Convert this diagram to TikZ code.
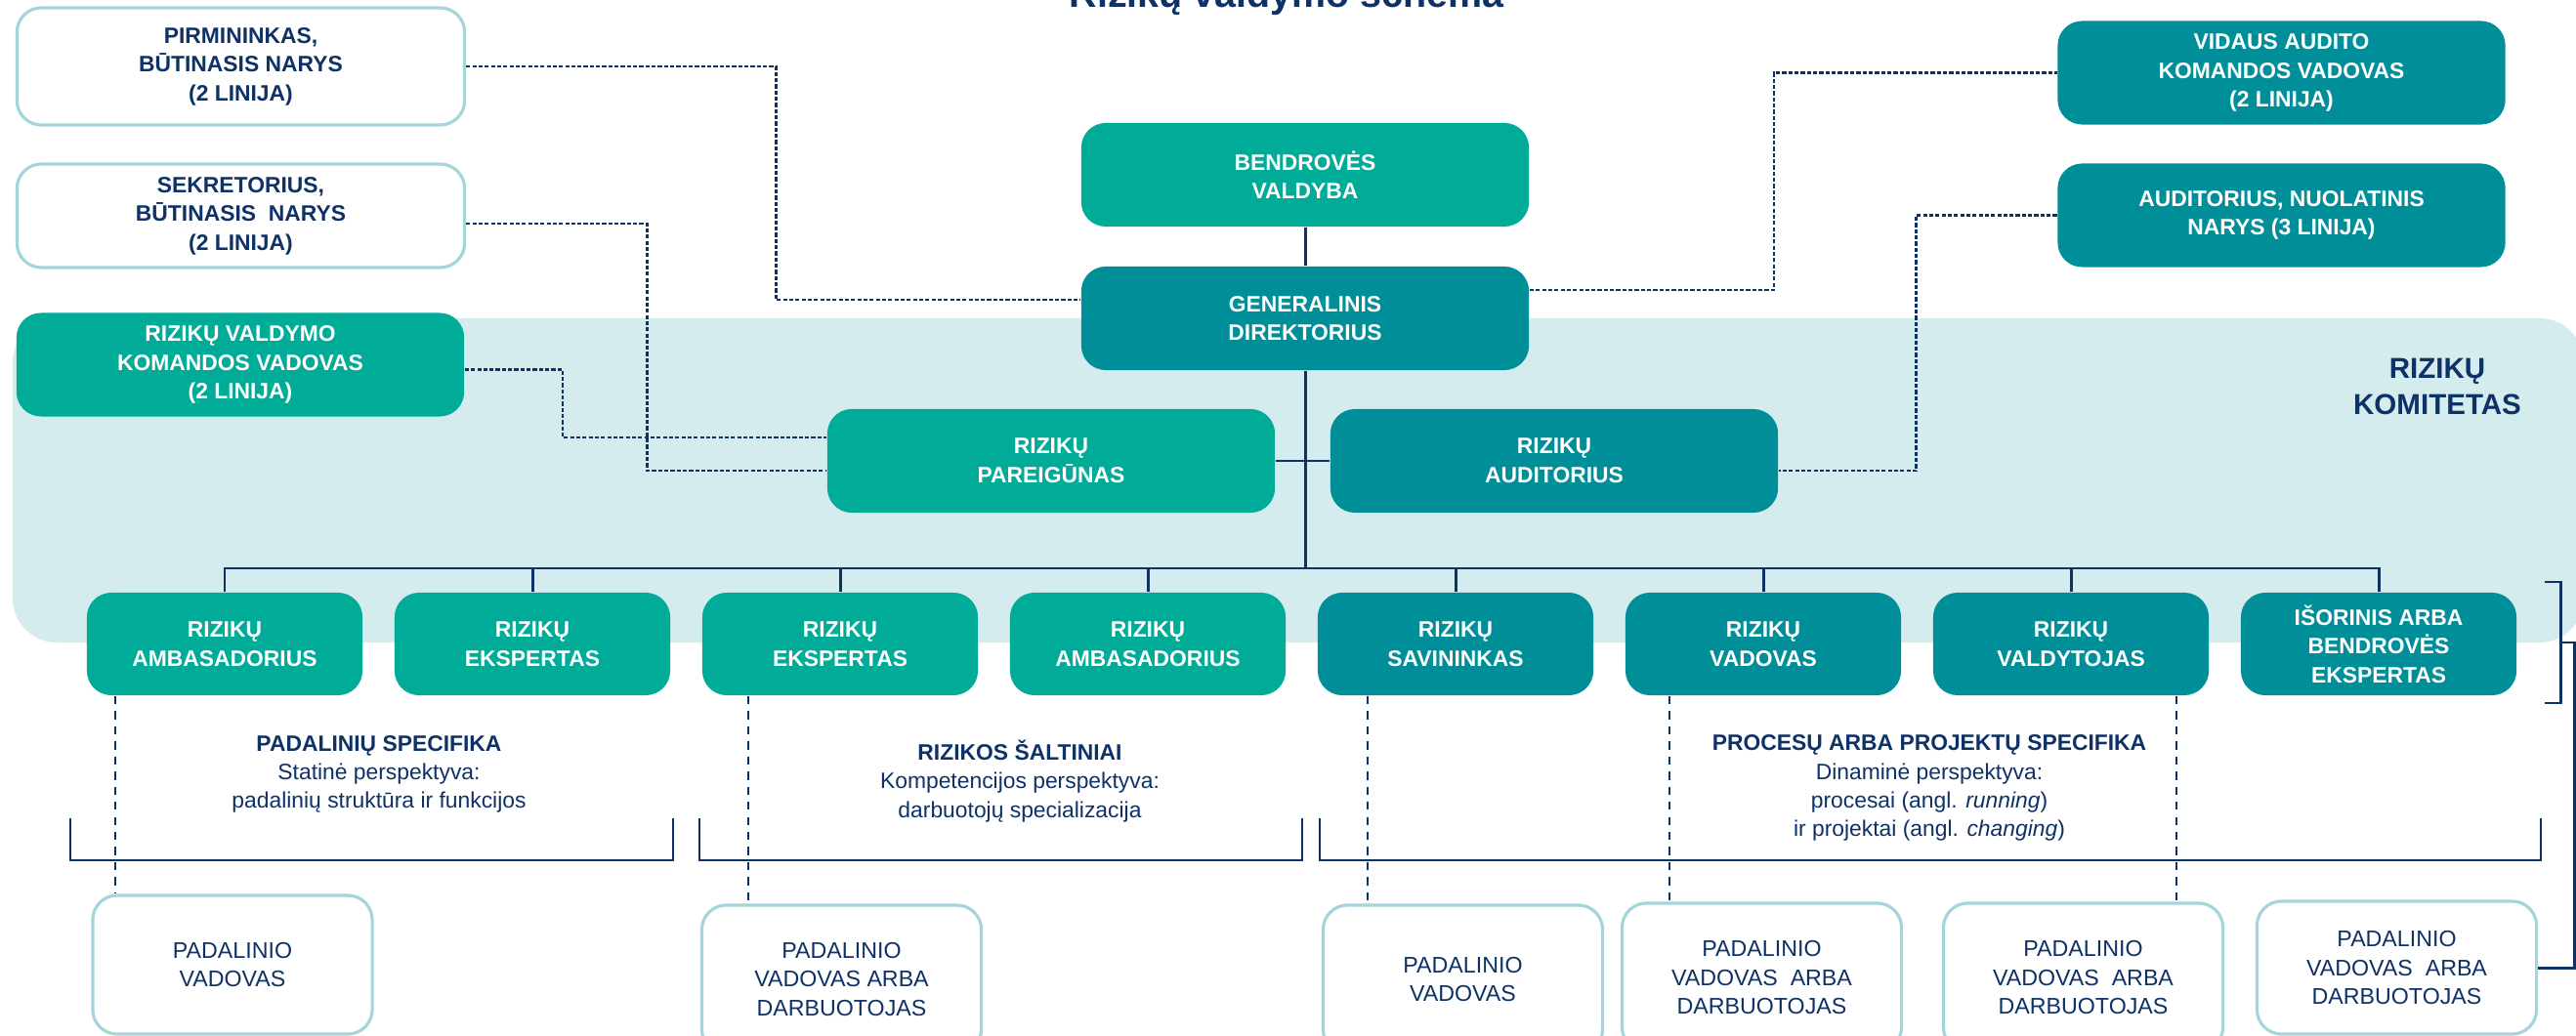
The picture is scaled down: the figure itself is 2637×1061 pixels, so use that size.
\documentclass[tikz,border=0pt]{standalone}
\usepackage{fontspec}
\setmainfont{Liberation Sans}
\definecolor{riskGreen}{HTML}{00AB98}
\definecolor{riskTeal}{HTML}{008F99}
\definecolor{riskPale}{HTML}{D5ECEE}
\definecolor{riskEdge}{HTML}{A3D5DA}
\definecolor{riskNavy}{HTML}{0E3166}

\begin{document}
\begin{tikzpicture}[x=0.01cm, y=-0.01cm,
    box/.style={rounded corners=0.25cm, minimum width=4.58cm, minimum height=1.06cm,
      align=center, inner sep=0pt, font=\fontsize{6.5pt}{8.4pt}\selectfont\bfseries},
    greenbox/.style={box, fill=riskGreen, text=white},
    tealbox/.style={box, fill=riskTeal, text=white},
    memberbox/.style={box, draw=riskEdge, line width=0.9pt, fill=white, text=riskNavy},
    unitbox/.style={memberbox, minimum width=2.86cm, font=\fontsize{6.6pt}{8.4pt}\selectfont},
    wire/.style={draw=riskNavy, line width=0.85pt},
    link/.style={draw=riskNavy, line width=0.75pt, dash pattern=on 1.2pt off 0.6pt},
    droplink/.style={draw=riskNavy, line width=0.8pt, dash pattern=on 2.4pt off 2pt},
    info/.style={align=center, text=riskNavy, font=\fontsize{6.5pt}{8.3pt}\selectfont}]
  \useasboundingbox (0,0) rectangle (2637,1061);

  % komitetas background
  \fill[riskPale, rounded corners=0.45cm] (13,326) rectangle (2645,658);
  \node[text=riskNavy, align=center, font=\fontsize{8.4pt}{10.5pt}\selectfont\bfseries] (komitetas) at (2495,396) {RIZIKŲ\\KOMITETAS};

  \node[anchor=base, text=riskNavy, font=\fontsize{11.2pt}{13pt}\selectfont\bfseries] (title) at (1317,8) {Rizikų valdymo schema};

  % top level
  \node[memberbox, minimum height=1.2cm] (pirm) at (246.5,68) {PIRMININKAS,\\BŪTINASIS NARYS\\(2 LINIJA)};
  \node[memberbox] (sekr) at (246.5,221) {SEKRETORIUS,\\BŪTINASIS\ \ NARYS\\(2 LINIJA)};
  \node[greenbox] (rvk) at (246,373.5) {RIZIKŲ VALDYMO\\KOMANDOS VADOVAS\\(2 LINIJA)};
  \node[greenbox] (valdyba) at (1336,179) {BENDROVĖS\\VALDYBA};
  \node[tealbox] (gd) at (1336,326) {GENERALINIS\\DIREKTORIUS};
  \node[tealbox] (vak) at (2335.5,74.5) {VIDAUS AUDITO\\KOMANDOS VADOVAS\\(2 LINIJA)};
  \node[tealbox] (aud) at (2335.5,220.5) {AUDITORIUS, NUOLATINIS\\NARYS (3 LINIJA)};
  \node[greenbox] (par) at (1076,472) {RIZIKŲ\\PAREIGŪNAS};
  \node[tealbox] (raud) at (1591,472) {RIZIKŲ\\AUDITORIUS};

  % bottom row
  \foreach \i/\sty/\txt in {1/greenbox/{RIZIKŲ\\AMBASADORIUS}, 2/greenbox/{RIZIKŲ\\EKSPERTAS},
      3/greenbox/{RIZIKŲ\\EKSPERTAS}, 4/greenbox/{RIZIKŲ\\AMBASADORIUS},
      5/tealbox/{RIZIKŲ\\SAVININKAS}, 6/tealbox/{RIZIKŲ\\VADOVAS},
      7/tealbox/{RIZIKŲ\\VALDYTOJAS}, 8/tealbox/{IŠORINIS ARBA\\BENDROVĖS\\EKSPERTAS}}
    \node[\sty, minimum width=2.82cm, minimum height=1.05cm] (b\i) at ({230+315*(\i-1)},659.5) {\txt};

  % padaliniai
  \node[unitbox, minimum height=1.42cm] (pa) at (238,988) {PADALINIO\\VADOVAS};
  \node[unitbox, minimum height=1.52cm] (pb) at (861.5,1003) {PADALINIO\\VADOVAS ARBA\\DARBUOTOJAS};
  \node[unitbox, minimum height=1.52cm] (pc) at (1497.5,1003) {PADALINIO\\VADOVAS};
  \node[unitbox, minimum height=1.52cm] (pd) at (1803.5,1001) {PADALINIO\\VADOVAS\ \ ARBA\\DARBUOTOJAS};
  \node[unitbox, minimum height=1.52cm] (pe) at (2132.5,1001) {PADALINIO\\VADOVAS\ \ ARBA\\DARBUOTOJAS};
  \node[unitbox, minimum height=1.36cm] (pf) at (2453.5,991) {PADALINIO\\VADOVAS\ \ ARBA\\DARBUOTOJAS};

  \node[info] (spec1) at (388,793) {\textbf{PADALINIŲ SPECIFIKA}\\Statinė perspektyva:\\padalinių struktūra ir funkcijos};
  \node[info] (spec2) at (1044,800) {\textbf{RIZIKOS ŠALTINIAI}\\Kompetencijos perspektyva:\\darbuotojų specializacija};
  \node[info] (spec3) at (1975,807) {\textbf{PROCESŲ ARBA PROJEKTŲ SPECIFIKA}\\Dinaminė perspektyva:\\procesai (angl. \textit{running})\\ir projektai (angl. \textit{changing})};

  % hierarchy
  \coordinate (bus) at (1336,582);
  \draw[wire] (valdyba) -- (gd);
  \draw[wire] (gd) -- (bus);
  \draw[wire] (par.east) -- (raud.west);
  \draw[wire] (b1.north) |- (bus) -| (b8.north);
  \foreach \i in {2,...,7}
    \draw[wire] (b\i.north) -- (b\i.north |- bus);

  % dotted reporting lines
  \draw[link] (pirm.east) -- ++(317,0) |- ([yshift=0.19cm]gd.west);
  \draw[link] ([yshift=0.29cm]gd.east) -- ++(250,0) |- (vak.west);
  \draw[link] (aud.west) -- ++(-144,0) |- ([yshift=-0.1cm]raud.east);
  \draw[link] ([yshift=-0.05cm]rvk.east) -- ++(100,0) |- ([yshift=0.24cm]par.west);
  \draw[link] ([yshift=-0.08cm]sekr.east) -- ++(185,0) |- ([yshift=-0.1cm]par.west);

  % dashed drops
  \path (b1.south) ++(-112,0) coordinate (d1);
  \path (b3.south) ++(-94,0) coordinate (d2);
  \path (b5.south) ++(-90,0) coordinate (d3);
  \path (b6.south) ++(-96,0) coordinate (d4);
  \path (b7.south) ++(108,0) coordinate (d5);
  \draw[droplink] (d1) -- (d1 |- pa.north);
  \draw[droplink] (d2) -- (d2 |- pb.north);
  \draw[droplink] (d3) -- (d3 |- pc.north);
  \draw[droplink] (d4) -- (d4 |- pd.north);
  \draw[droplink] (d5) -- (d5 |- pe.north);

  % brackets
  \draw[wire, line width=0.7pt] (72,838) |- (689,881) -- (689,838);
  \draw[wire, line width=0.7pt] (716,838) |- (1333,881) -- (1333,838);
  \draw[wire, line width=0.7pt] (1351,838) |- (2601,881) -- (2601,838);
  \draw[wire] (2605,596) -| (2621,720) -- (2605,720);
  \coordinate (brk) at (2621,658);
  \draw[wire] (brk) -- ++(14,0) |- (pf.east);
\end{tikzpicture}
\end{document}
